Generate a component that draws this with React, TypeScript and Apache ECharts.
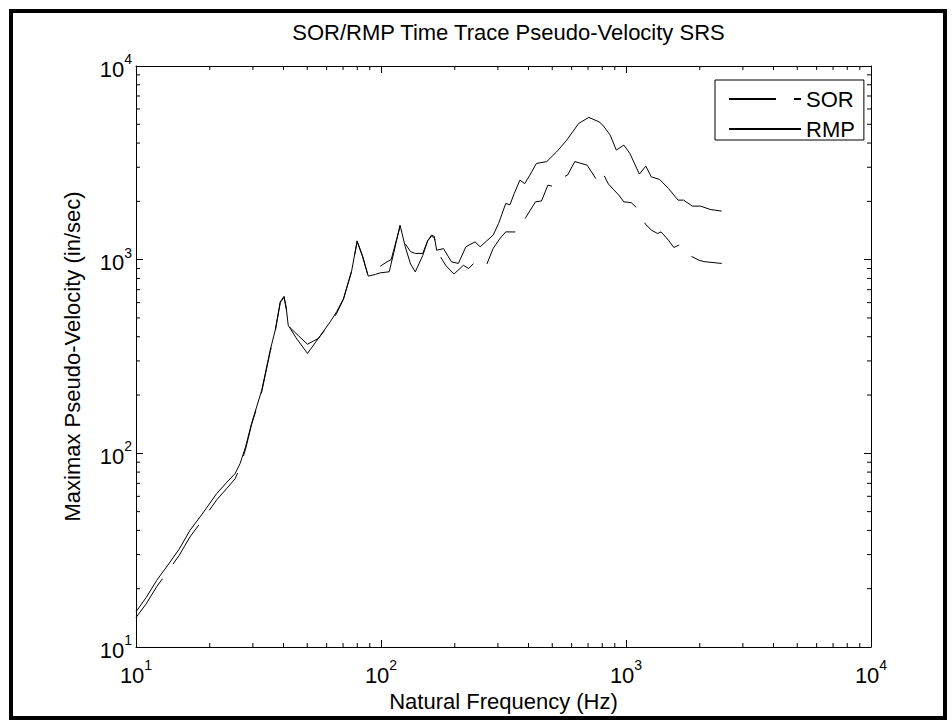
import React, { useEffect, useRef } from "react";
import * as echarts from "echarts";

const FONT = "'Liberation Sans', Arial, Helvetica, sans-serif";

const rmpFreq = [10, 11, 12.15, 13.5, 15, 16.6, 18.5, 21.35, 23.5, 25.4, 26.6, 28, 29.6, 32.6, 35.3, 37, 38.8, 40.2, 41, 41.8, 45, 50.1, 55.5, 62, 66, 70.3, 76, 79.9, 84, 88.7, 95, 99.3, 108, 113, 119.6, 126, 132, 138, 148, 155, 160.6, 165, 168.7, 180, 194, 207, 222, 242, 254, 270, 287, 302, 323, 336, 350, 369, 386, 405, 431, 475, 521, 573, 641, 705, 776, 804, 862, 913, 980, 1037, 1134, 1205, 1268, 1371, 1491, 1630, 1717, 1865, 2017, 2206, 2458];
const rmpVel = [15.2, 18.0, 22.1, 26.5, 32, 40, 48, 62, 71, 78.7, 88.6, 108, 142, 212, 341, 432, 605, 647, 570, 459, 395, 328, 392, 477, 540, 630, 883, 1250, 1050, 822, 840, 855, 866, 1100, 1507, 1150, 950, 865, 1050, 1250, 1339, 1320, 1119, 1140, 974, 956, 1165, 1236, 1165, 1250, 1339, 1538, 1952, 1920, 2200, 2574, 2470, 2731, 3140, 3210, 3605, 4142, 5052, 5427, 5150, 4953, 4397, 3679, 3904, 3537, 2764, 3041, 2678, 2596, 2332, 2030, 2030, 1890, 1890, 1817, 1781];

const sorFreq = [10, 11, 12.15, 13.5, 15, 16.6, 18.5, 21.35, 23.5, 25.4, 26.6, 28, 29.6, 32.6, 35.3, 37, 38.8, 40.2, 41, 42.5, 46, 50.1, 55.5, 62, 66, 70.3, 76, 79.9, 84, 88.7, 95, 99.3, 104.8, 110, 119.6, 126, 132, 138, 148, 155, 160.6, 165, 170, 183.4, 197, 200, 217, 228, 239, 250, 266, 287, 305, 323, 345, 363, 380, 427, 452, 480, 510, 537, 577, 618, 650, 694, 760, 796, 848, 890, 935, 980, 1050, 1134, 1200, 1270, 1346, 1390, 1490, 1567, 1670, 1750, 1850, 1985, 2080, 2458];
const sorVel = [14.2, 16.7, 20.5, 24.6, 29.7, 37, 44.5, 57.5, 66, 74, 85, 105, 140, 208, 335, 425, 600, 640, 560, 446, 405, 366, 392, 470, 530, 625, 875, 1240, 1040, 822, 880, 925, 967, 1000, 1480, 1200, 1100, 1077, 1077, 1250, 1320, 1300, 1100, 937, 849, 850, 935, 900, 958, 930, 900, 1143, 1280, 1392, 1390, 1392, 1567, 1989, 2010, 2426, 2380, 2626, 2731, 3210, 3150, 3077, 2574, 2875, 2455, 2300, 2153, 1989, 1970, 1802, 1526, 1420, 1365, 1392, 1261, 1156, 1200, 1097, 1040, 994, 977, 956];

const xMinorTicks = [20, 30, 40, 50, 60, 70, 80, 90, 200, 300, 400, 500, 600, 700, 800, 900, 2000, 3000, 4000, 5000, 6000, 7000, 8000, 9000];
const yMinorTicks = [20, 30, 40, 50, 60, 70, 80, 90, 200, 300, 400, 500, 600, 700, 800, 900, 2000, 3000, 4000, 5000, 6000, 7000, 8000, 9000];

const titleText = "SOR/RMP Time Trace Pseudo-Velocity SRS";
const xName = "Natural Frequency (Hz)";
const yName = "Maximax Pseudo-Velocity (in/sec)";

const FS = 22;

const labelRich = {
  b: { fontSize: FS, fontFamily: FONT, color: "#000", lineHeight: 28, verticalAlign: "bottom" },
  s: { fontSize: 14, fontFamily: FONT, color: "#000", lineHeight: 14, verticalAlign: "top" },
};
const powFormatter = (v: number) => "{b|10}{s|" + Math.round(Math.log10(v)) + "}";

export default function App() {
  const ref = useRef<HTMLDivElement>(null);
  useEffect(() => {
    if (!ref.current) return;
    const chart = echarts.init(ref.current, null, { renderer: "svg" });
    const axisCommon: any = {
      type: "log",
      logBase: 10,
      min: 10,
      max: 10000,
      axisLine: { show: true, onZero: false, lineStyle: { color: "#000", width: 1 } },
      axisTick: { show: true, inside: true, length: 7, lineStyle: { color: "#000", width: 1 } },
      splitLine: { show: false },
      minorTick: { show: false },
    };
    const tickStyle = { stroke: "#000", lineWidth: 1 };
    chart.setOption({
      animation: false,
      backgroundColor: "#fff",
      title: {
        text: titleText,
        left: 503.5,
        top: 16,
        textAlign: "center",
        textStyle: { fontSize: FS, fontWeight: "normal", fontFamily: FONT, color: "#000" },
      },
      grid: { left: 136, right: 81, top: 66, bottom: 79 },
      legend: {
        data: ["SOR", "RMP"],
        orient: "vertical",
        left: 715,
        top: 80,
        padding: [8, 9, 0, 13],
        itemGap: 8,
        itemWidth: 72,
        itemHeight: 14,
        borderColor: "#000",
        borderWidth: 1,
        backgroundColor: "#fff",
        itemStyle: { opacity: 0, color: "transparent", borderWidth: 0 },
        textStyle: { fontSize: FS, fontFamily: FONT, color: "#000", lineHeight: 22 },
      },
      xAxis: [
        {
          ...axisCommon,
          position: "bottom",
          name: xName,
          nameLocation: "middle",
          nameGap: 42,
          nameTextStyle: { fontSize: FS, fontFamily: FONT, color: "#000" },
          axisLabel: { margin: 11, formatter: powFormatter, rich: labelRich },
        },
        { ...axisCommon, position: "top", axisLabel: { show: false } },
      ],
      yAxis: [
        {
          ...axisCommon,
          position: "left",
          name: yName,
          nameLocation: "middle",
          nameGap: 53,
          nameTextStyle: { fontSize: FS, fontFamily: FONT, color: "#000" },
          axisLabel: { margin: 4, formatter: powFormatter, rich: labelRich },
        },
        { ...axisCommon, position: "right", axisLabel: { show: false } },
      ],
      graphic: [
        {
          type: "rect",
          shape: { x: 11, y: 11, width: 934, height: 707 },
          style: { fill: "none", stroke: "#000", lineWidth: 4 },
          silent: true,
          z: 100,
        },
      ],
      series: [
        {
          name: "SOR",
          type: "line",
          data: sorFreq.map((f, i) => [f, sorVel[i]]),
          symbol: "none",
          showSymbol: false,
          itemStyle: { color: "#000" },
          lineStyle: { color: "#000", width: 1, type: [47, 18] },
          z: 3,
        },
        {
          name: "RMP",
          type: "line",
          data: rmpFreq.map((f, i) => [f, rmpVel[i]]),
          symbol: "none",
          showSymbol: false,
          itemStyle: { color: "#000" },
          lineStyle: { color: "#000", width: 1 },
          z: 3,
        },
        {
          name: "xMinor",
          type: "custom",
          silent: true,
          clip: false,
          data: xMinorTicks.map((v) => [v, 10]),
          renderItem: (_p: any, api: any) => {
            const v = api.value(0);
            const b = api.coord([v, 10]);
            const t = api.coord([v, 10000]);
            return {
              type: "group",
              children: [
                { type: "line", shape: { x1: b[0], y1: b[1], x2: b[0], y2: b[1] - 4 }, style: tickStyle },
                { type: "line", shape: { x1: t[0], y1: t[1], x2: t[0], y2: t[1] + 4 }, style: tickStyle },
              ],
            };
          },
        },
        {
          name: "yMinor",
          type: "custom",
          silent: true,
          clip: false,
          data: yMinorTicks.map((v) => [10, v]),
          renderItem: (_p: any, api: any) => {
            const v = api.value(1);
            const l = api.coord([10, v]);
            const r = api.coord([10000, v]);
            return {
              type: "group",
              children: [
                { type: "line", shape: { x1: l[0], y1: l[1], x2: l[0] + 4, y2: l[1] }, style: tickStyle },
                { type: "line", shape: { x1: r[0], y1: r[1], x2: r[0] - 4, y2: r[1] }, style: tickStyle },
              ],
            };
          },
        },
      ],
    });
    return () => chart.dispose();
  }, []);
  return (
    <div
      ref={ref}
      style={{ position: "fixed", left: 0, top: 0, width: 952, height: 726, background: "#fff" }}
    />
  );
}
